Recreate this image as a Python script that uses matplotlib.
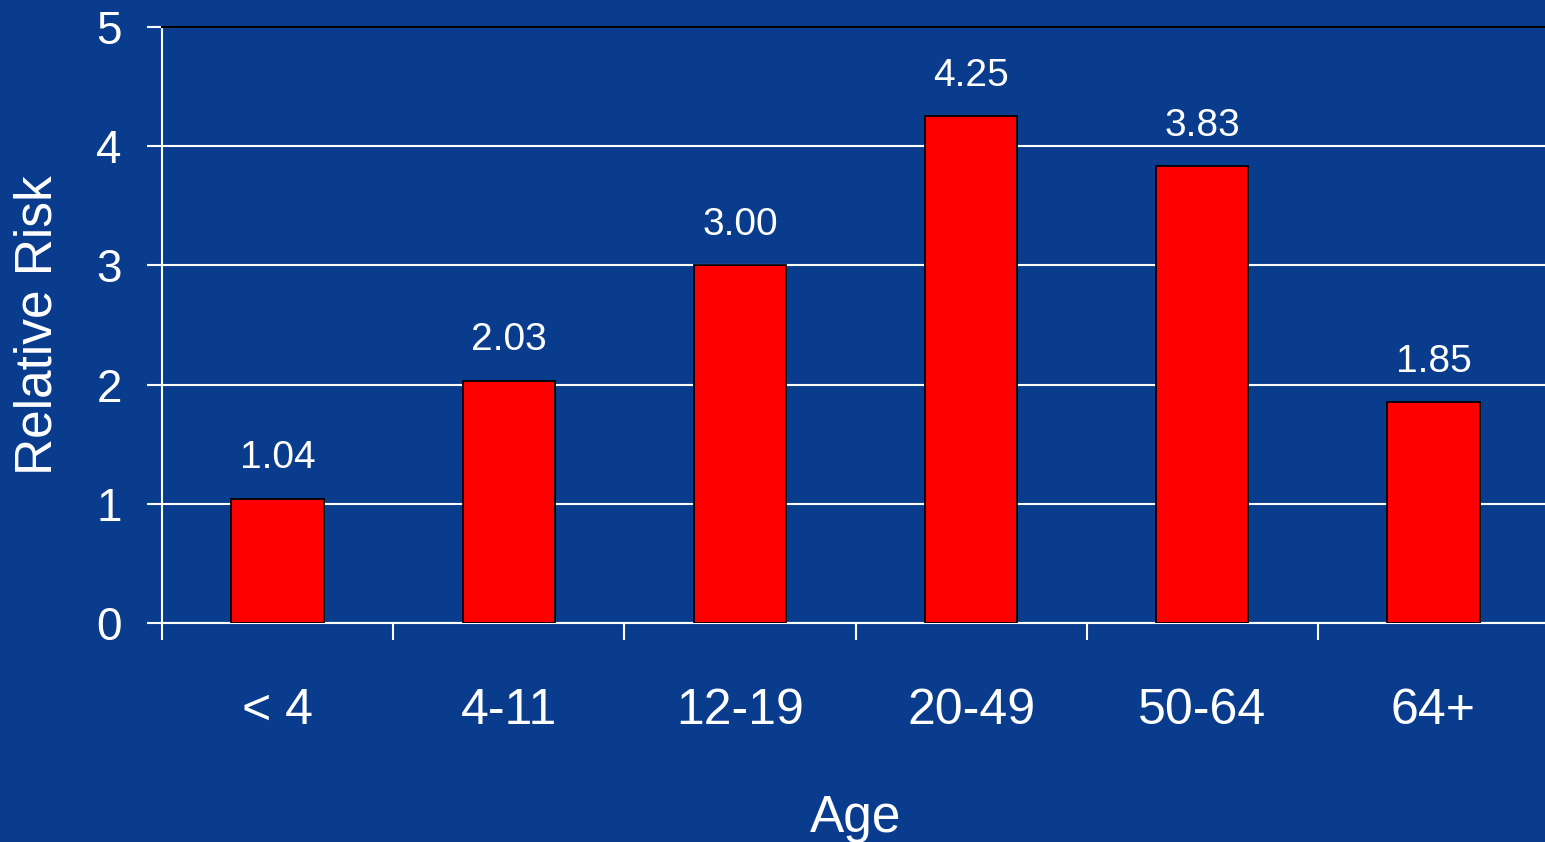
import matplotlib
matplotlib.use("Agg")
from matplotlib import pyplot as plt
from matplotlib.ticker import FixedLocator

# Relative risk by age group
age_groups = ["< 4", "4-11", "12-19", "20-49", "50-64", "64+"]
relative_risk = [1.04, 2.03, 3.00, 4.25, 3.83, 1.85]
y_ticks = [0, 1, 2, 3, 4, 5]

BG = "#0A3C8E"

plt.rcParams["font.family"] = ["Liberation Sans", "DejaVu Sans"]

fig = plt.figure(figsize=(15.45, 8.42), dpi=100, facecolor=BG)
ax = fig.add_axes([162 / 1545, 219 / 842, 1387 / 1545, 596 / 842])
ax.set_facecolor(BG)

x = list(range(len(age_groups)))
ax.bar(x, relative_risk, width=0.40, color="#FF0000", edgecolor="black",
       linewidth=1.3, zorder=3)

for xi, v in zip(x, relative_risk):
    ax.text(xi, v + 0.19, f"{v:.2f}", ha="center", va="bottom",
            color="white", fontsize=28)

ax.set_xlim(-0.5, len(age_groups) - 0.5)
ax.set_ylim(0, 5)
ax.set_yticks(y_ticks)
ax.set_yticklabels([str(t) for t in y_ticks])

# category labels at centers, tick marks between categories
ax.set_xticks(x)
ax.set_xticklabels(age_groups)
ax.xaxis.set_minor_locator(FixedLocator([i - 0.5 for i in range(len(age_groups) + 1)]))
ax.tick_params(axis="x", which="major", length=0, pad=47, labelsize=36,
               colors="white")
ax.tick_params(axis="x", which="minor", length=12, width=1.5, color="white",
               direction="out")
ax.tick_params(axis="y", length=11, width=1.5, pad=18, labelsize=33,
               colors="white")

ax.grid(axis="y", color="white", linewidth=1.5, zorder=1)
ax.set_axisbelow(True)

ax.spines["left"].set_color("white")
ax.spines["left"].set_linewidth(1.5)
ax.spines["bottom"].set_color("white")
ax.spines["bottom"].set_linewidth(1.5)
ax.spines["top"].set_color("black")
ax.spines["top"].set_linewidth(1.5)
ax.spines["right"].set_visible(False)

ax.set_ylabel("Relative Risk", fontsize=37, color="white", labelpad=24)
ax.set_xlabel("Age", fontsize=37, color="white", labelpad=43)

fig.savefig("out.png", dpi=100, facecolor=BG)
